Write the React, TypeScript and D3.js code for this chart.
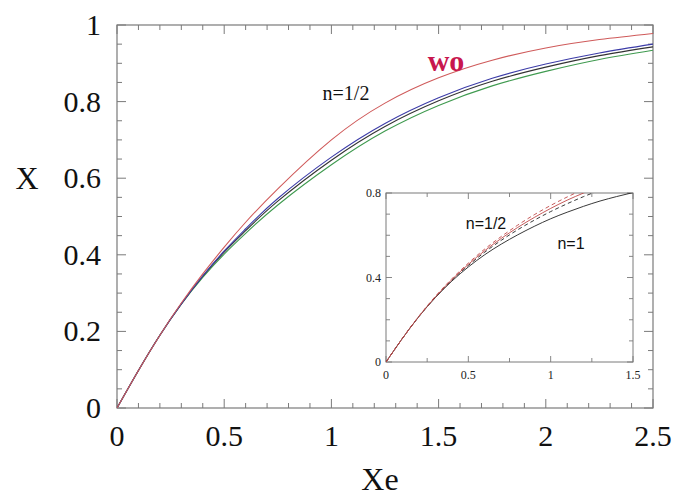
import * as d3 from 'd3'

// main panel: conversion X versus Xe
const XE = [0, 0.1, 0.2, 0.3, 0.4, 0.5, 0.6, 0.75, 1.0, 1.25, 1.5, 1.75, 2.0, 2.25, 2.5]
const WO = [0, 0.098, 0.19, 0.274, 0.35, 0.42, 0.485, 0.572, 0.7, 0.796, 0.862, 0.908, 0.94, 0.962, 0.978]
const BLUE = [0, 0.098, 0.19, 0.272, 0.345, 0.41, 0.468, 0.547, 0.655, 0.743, 0.81, 0.861, 0.898, 0.927, 0.95]
const BLACK = [0, 0.098, 0.19, 0.272, 0.344, 0.407, 0.463, 0.54, 0.647, 0.735, 0.802, 0.853, 0.89, 0.92, 0.943]
const GREEN = [0, 0.098, 0.19, 0.271, 0.341, 0.402, 0.456, 0.53, 0.635, 0.723, 0.79, 0.841, 0.879, 0.91, 0.934]

// inset panel
const IN_XE = [0, 0.1, 0.2, 0.3, 0.4, 0.5, 0.6, 0.7, 0.8, 0.9, 1.0, 1.1, 1.2, 1.3, 1.4, 1.5]
const IN_N1 = [0, 0.112, 0.215, 0.305, 0.383, 0.45, 0.508, 0.558, 0.602, 0.642, 0.678, 0.709, 0.737, 0.762, 0.783, 0.802]
const IN_N1_DASH = [0, 0.112, 0.216, 0.307, 0.387, 0.457, 0.52, 0.576, 0.626, 0.671, 0.712, 0.749, 0.783, 0.813]
const IN_HALF = [0, 0.112, 0.216, 0.308, 0.39, 0.462, 0.527, 0.585, 0.637, 0.684, 0.727, 0.766, 0.8, 0.832]
const IN_HALF_DASH = [0, 0.112, 0.217, 0.311, 0.394, 0.468, 0.535, 0.594, 0.648, 0.697, 0.741, 0.781, 0.818]

const X_TICKS = ['0', '0.5', '1', '1.5', '2', '2.5']
const Y_TICKS = ['0', '0.2', '0.4', '0.6', '0.8', '1']

const FRAME = '#7a7a7a'
const SERIF = '"Liberation Serif", "Times New Roman", serif'
const SANS = '"Liberation Sans", Arial, sans-serif'

type Pt = [number, number]
const zip = (xs: number[], ys: number[]): Pt[] => ys.map((v, i) => [xs[i], v])

export default function App() {
  const W = 676
  const H = 500

  const x = d3.scaleLinear().domain([0, 2.5]).range([117, 653])
  const y = d3.scaleLinear().domain([0, 1]).range([408, 25])

  const ix = d3.scaleLinear().domain([0, 1.5]).range([386, 633])
  const iy = d3.scaleLinear().domain([0, 0.8]).range([362, 193])

  const line = d3
    .line<Pt>()
    .x((d) => x(d[0]))
    .y((d) => y(d[1]))
    .curve(d3.curveNatural)

  const iline = d3
    .line<Pt>()
    .x((d) => ix(d[0]))
    .y((d) => iy(d[1]))
    .curve(d3.curveNatural)

  const mainSeries = [
    { data: GREEN, color: '#3f9a4f' },
    { data: BLACK, color: '#333333' },
    { data: BLUE, color: '#3c3ca8' },
    { data: WO, color: '#cf5a5a' },
  ]

  const insetSeries = [
    { data: IN_N1, color: '#222222', dash: undefined },
    { data: IN_N1_DASH, color: '#222222', dash: '4 3' },
    { data: IN_HALF, color: '#c04848', dash: undefined },
    { data: IN_HALF_DASH, color: '#c04848', dash: '4 3' },
  ]

  const [x0, x1] = x.range()
  const [y0, y1] = y.range()
  const [ix0, ix1] = ix.range()
  const [iy0, iy1] = iy.range()

  const xMinor = x.ticks(25)
  const xMajor = x.ticks(5)
  const yMinor = y.ticks(20)
  const yMajor = y.ticks(5)

  const ixMinor = d3.range(0, 1.5001, 0.25)
  const ixMajor = [0, 0.5, 1, 1.5]
  const iyMinor = iy.ticks(8)
  const iyMajor = [0, 0.4, 0.8]

  return (
    <div style={{ position: 'absolute', left: 0, top: 0 }}>
      <svg width={W} height={H} style={{ display: 'block', background: '#fff' }}>
        <defs>
          <clipPath id="main-clip">
            <rect x={x0} y={y1} width={x1 - x0} height={y0 - y1} />
          </clipPath>
          <clipPath id="inset-clip">
            <rect x={ix0} y={iy1} width={ix1 - ix0} height={iy0 - iy1} />
          </clipPath>
        </defs>

        {/* main frame */}
        <rect x={x0} y={y1} width={x1 - x0} height={y0 - y1} fill="#fff" stroke={FRAME} strokeWidth={1.2} />
        {xMinor.map((t) => {
          const big = xMajor.includes(t)
          const len = big ? 9 : 5
          return (
            <g key={'xm' + t} stroke={FRAME} strokeWidth={1}>
              <line x1={x(t)} x2={x(t)} y1={y0} y2={y0 - len} />
              <line x1={x(t)} x2={x(t)} y1={y1} y2={y1 + len} />
            </g>
          )
        })}
        {yMinor.map((t) => {
          const big = yMajor.includes(t)
          const len = big ? 9 : 5
          return (
            <g key={'ym' + t} stroke={FRAME} strokeWidth={1}>
              <line x1={x0} x2={x0 + len} y1={y(t)} y2={y(t)} />
              <line x1={x1} x2={x1 - len} y1={y(t)} y2={y(t)} />
            </g>
          )
        })}
        {xMajor.map((t, i) => (
          <text key={'xl' + t} x={x(t)} y={446} textAnchor="middle" fontFamily={SERIF} fontSize={30} fill="#111">
            {X_TICKS[i]}
          </text>
        ))}
        {yMajor.map((t, i) => (
          <text key={'yl' + t} x={101} y={y(t) + 10} textAnchor="end" fontFamily={SERIF} fontSize={30} fill="#111">
            {Y_TICKS[i]}
          </text>
        ))}
        <text x={380} y={490} textAnchor="middle" fontFamily={SERIF} fontSize={32} fill="#111">
          Xe
        </text>
        <text x={27} y={189} textAnchor="middle" fontFamily={SERIF} fontSize={32} fill="#111">
          X
        </text>

        <g clipPath="url(#main-clip)">
          {mainSeries.map((s, i) => (
            <path key={i} d={line(zip(XE, s.data)) ?? ''} fill="none" stroke={s.color} strokeWidth={1.1} />
          ))}
        </g>

        <text x={446} y={71} textAnchor="middle" fontFamily={SERIF} fontSize={30} fontWeight="bold" fill="#c8174e">
          wo
        </text>
        <text x={346} y={100} textAnchor="middle" fontFamily={SERIF} fontSize={20} fill="#111">
          n=1/2
        </text>

        {/* inset */}
        <rect x={ix0} y={iy1} width={ix1 - ix0} height={iy0 - iy1} fill="#fff" stroke={FRAME} strokeWidth={1} />
        {ixMinor.map((t) => {
          const big = ixMajor.includes(t)
          const len = big ? 6 : 4
          return (
            <g key={'ixm' + t} stroke={FRAME} strokeWidth={0.9}>
              <line x1={ix(t)} x2={ix(t)} y1={iy0} y2={iy0 - len} />
              <line x1={ix(t)} x2={ix(t)} y1={iy1} y2={iy1 + len} />
            </g>
          )
        })}
        {iyMinor.map((t) => {
          const big = iyMajor.some((m) => Math.abs(m - t) < 1e-9)
          const len = big ? 6 : 4
          return (
            <g key={'iym' + t} stroke={FRAME} strokeWidth={0.9}>
              <line x1={ix0} x2={ix0 + len} y1={iy(t)} y2={iy(t)} />
              <line x1={ix1} x2={ix1 - len} y1={iy(t)} y2={iy(t)} />
            </g>
          )
        })}
        {ixMajor.map((t) => (
          <text key={'ixl' + t} x={ix(t)} y={iy0 + 17} textAnchor="middle" fontFamily={SERIF} fontSize={12} fill="#222">
            {String(t)}
          </text>
        ))}
        {iyMajor.map((t) => (
          <text key={'iyl' + t} x={ix0 - 5} y={iy(t) + 4} textAnchor="end" fontFamily={SERIF} fontSize={12} fill="#222">
            {String(t)}
          </text>
        ))}
        <g clipPath="url(#inset-clip)">
          {insetSeries.map((s, i) => (
            <path
              key={'is' + i}
              d={iline(zip(IN_XE, s.data)) ?? ''}
              fill="none"
              stroke={s.color}
              strokeWidth={0.9}
              strokeDasharray={s.dash}
            />
          ))}
        </g>
        <text x={486} y={229} textAnchor="middle" fontFamily={SANS} fontSize={16} fill="#111">
          n=1/2
        </text>
        <text x={571} y={249} textAnchor="middle" fontFamily={SANS} fontSize={16} fill="#111">
          n=1
        </text>
      </svg>
    </div>
  )
}
